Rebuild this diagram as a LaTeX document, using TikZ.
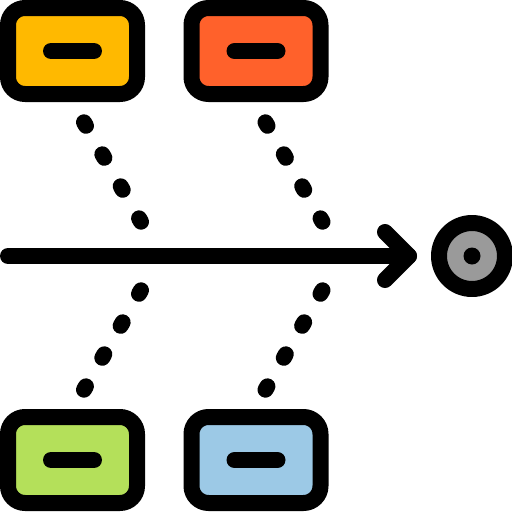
\documentclass[tikz,border=0pt]{standalone}
\usepackage{tikz}
\usetikzlibrary{calc}
\definecolor{yel}{HTML}{FFB900}
\definecolor{ora}{HTML}{FF612B}
\definecolor{gre}{HTML}{B4E05A}
\definecolor{blu}{HTML}{9CC9E6}
\definecolor{gry}{HTML}{9A9A9A}
\tikzset{box/.style={draw,line width=16pt,rounded corners=17pt,minimum width=129pt,minimum height=86pt,inner sep=0pt}}
\tikzset{bar/.style={line width=16pt,line cap=round}}
\tikzset{dots/.style={line width=16pt,line cap=round,dash pattern=on 4pt off 32.9pt}}

\begin{document}
\begin{tikzpicture}[x=1pt,y=-1pt,line join=round]
            \useasboundingbox (0,0) rectangle (512,512);
            % causes
            \node[box,fill=yel] (A) at (72.5,51) {};
            \node[box,fill=ora] (B) at (256,51) {};
            \node[box,fill=gre] (C) at (72.5,460) {};
            \node[box,fill=blu] (D) at (256,460) {};
            \foreach \n in {A,B,C,D}
              \draw[bar] ($(\n)+(-21.5,0)$) -- ($(\n)+(21.5,0)$);
            % effect
            \node[circle,draw,line width=16pt,fill=gry,minimum size=66pt,inner sep=0pt] (E) at (472,256) {};
            \fill (E) circle (8.5);
            % spine
            \coordinate (tail) at (8,256);
            \coordinate (tip) at (409,256);
            \draw[bar] (tail) -- (tip);
            \draw[bar] ($(tip)+(-24,-24)$) -- (tip) -- ($(tip)+(-24,24)$);
            % bones
            \coordinate (a1) at (84,122.3);   \coordinate (a2) at (141,221.7);
            \coordinate (b1) at (265.5,122.3); \coordinate (b2) at (322.5,221.7);
            \coordinate (c1) at (141,290.3);  \coordinate (c2) at (84,389.7);
            \coordinate (d1) at (322.5,290.3); \coordinate (d2) at (265.5,389.7);
            \draw[dots] (a1) -- (a2);
            \draw[dots] (b1) -- (b2);
            \draw[dots] (c1) -- (c2);
            \draw[dots] (d1) -- (d2);
          \end{tikzpicture}
\end{document}
